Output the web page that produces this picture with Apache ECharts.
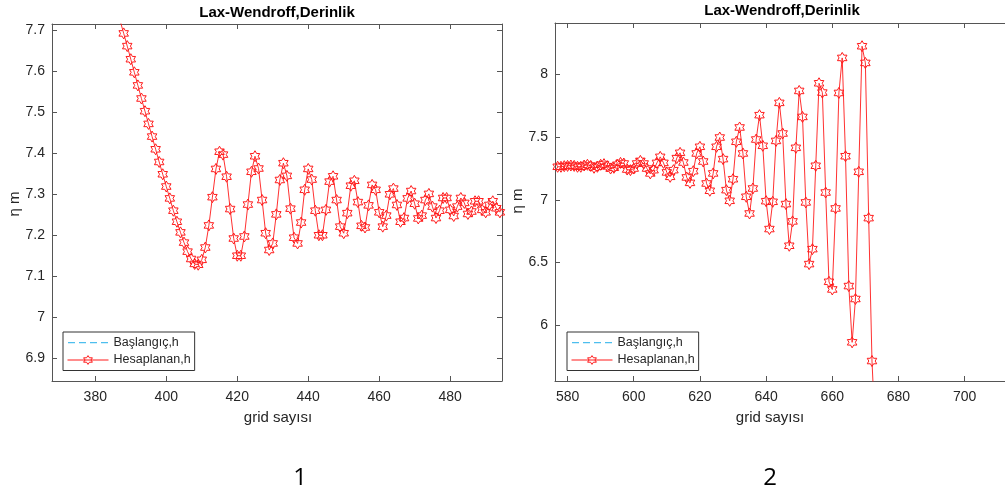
<!DOCTYPE html>
<html>
<head>
<meta charset="utf-8">
<script src="https://cdn.jsdelivr.net/npm/echarts@6/dist/echarts.min.js"></script>
<style>
  html, body { margin: 0; padding: 0; background: #fff; }
  #chart { width: 1005px; height: 495px; }
</style>
</head>
<body>
<div id="chart"></div>
<script>
// Panel 1: grid points and computed depth (eta, m)
const leftGrid = [];
for (let g = 384; g <= 494; g++) leftGrid.push(g);
const leftEta = [
  7.817, 7.786, 7.755, 7.724, 7.693, 7.662, 7.630, 7.598, 7.566, 7.534,
  7.503, 7.472, 7.441, 7.410, 7.379, 7.349, 7.319, 7.290, 7.260, 7.233,
  7.207, 7.182, 7.160, 7.142, 7.130, 7.128, 7.140, 7.170, 7.224, 7.293,
  7.362, 7.404, 7.397, 7.343, 7.264, 7.192, 7.150, 7.150, 7.197, 7.275,
  7.355, 7.393, 7.363, 7.286, 7.205, 7.164, 7.180, 7.251, 7.335, 7.376,
  7.345, 7.265, 7.194, 7.180, 7.231, 7.311, 7.362, 7.336, 7.260, 7.200,
  7.200, 7.262, 7.331, 7.344, 7.286, 7.221, 7.205, 7.254, 7.321, 7.333,
  7.281, 7.223, 7.219, 7.273, 7.323, 7.311, 7.256, 7.221, 7.248, 7.300,
  7.314, 7.274, 7.233, 7.242, 7.290, 7.308, 7.277, 7.241, 7.248, 7.286,
  7.301, 7.270, 7.242, 7.260, 7.291, 7.291, 7.262, 7.247, 7.270, 7.291,
  7.279, 7.252, 7.258, 7.283, 7.283, 7.262, 7.256, 7.274, 7.283, 7.266,
  7.256
];
const leftInitial = [];   // initial condition lies outside the shown window

// Panel 2: grid points and computed depth (eta, m)
const rightGrid = [];
for (let g = 577; g <= 673; g++) rightGrid.push(g);
const rightEta = [
  7.263, 7.263, 7.268, 7.270, 7.273, 7.270, 7.263, 7.263, 7.273, 7.279,
  7.270, 7.255, 7.263, 7.279, 7.284, 7.268, 7.249, 7.255, 7.279, 7.294,
  7.289, 7.241, 7.236, 7.249, 7.289, 7.310, 7.289, 7.249, 7.210, 7.236,
  7.294, 7.342, 7.294, 7.218, 7.183, 7.236, 7.332, 7.374, 7.297, 7.178,
  7.135, 7.228, 7.369, 7.422, 7.305, 7.130, 7.072, 7.210, 7.422, 7.496,
  7.324, 7.077, 6.992, 7.164, 7.462, 7.576, 7.369, 7.024, 6.891, 7.090,
  7.480, 7.674, 7.430, 6.989, 6.767, 6.984, 7.469, 7.772, 7.528, 6.966,
  6.634, 6.828, 7.414, 7.867, 7.660, 6.979, 6.488, 6.607, 7.271, 7.928,
  7.854, 7.058, 6.347, 6.286, 6.931, 7.851, 8.130, 7.347, 6.313, 5.865,
  6.210, 7.223, 8.223, 8.090, 6.854, 5.716, 5.150
];
const rightInitial = [];

// Tick labels
const leftXTicks = [380, 400, 420, 440, 460, 480];
const leftYTicks = [6.9, 7, 7.1, 7.2, 7.3, 7.4, 7.5, 7.6, 7.7];
const rightXTicks = [580, 600, 620, 640, 660, 680, 700];
const rightYTicks = [6, 6.5, 7, 7.5, 8];

const titleText = 'Lax-Wendroff,Derinlik';
const xName = 'grid sayısı';
const yName = 'η m';
const seriesNames = ['Başlangıç,h', 'Hesaplanan,h'];
const panelNumbers = ['1', '2'];

// six-pointed star outline used as the marker
function hexagramPath() {
  const parts = [];
  for (let k = 0; k < 12; k++) {
    const a = (-90 + k * 30) * Math.PI / 180;
    const r = k % 2 === 0 ? 50 : 28.87;
    const x = (50 + r * Math.cos(a)).toFixed(2);
    const y = (50 + r * Math.sin(a)).toFixed(2);
    parts.push((k === 0 ? 'M' : 'L') + x + ' ' + y);
  }
  return 'path://' + parts.join(' ') + ' Z';
}
const STAR = hexagramPath();

// dashed-line legend icon: four short bars, with zero-area corner points
// so the icon keeps the full item box (40 x 11)
function dashIcon() {
  let p = 'M0 0 L0.01 0 L0 0 Z M40 11 L39.99 11 L40 11 Z';
  [[0, 7], [11, 18], [22, 29], [33, 40]].forEach(([a, b]) => {
    p += ' M' + a + ' 5 L' + b + ' 5 L' + b + ' 6.3 L' + a + ' 6.3 Z';
  });
  return 'path://' + p;
}

const FONT = '"Liberation Sans", Arial, sans-serif';
const AXIS_COLOR = '#555';
const TEXT_COLOR = '#262626';
const RED = '#ff1a1a';
const BLUE = '#4DBEEE';

function pairs(xs, ys) { return xs.map((x, i) => [x, ys[i]]); }

function baseAxis(gridIndex, min, max, ticks) {
  return {
    type: 'value', gridIndex, min, max,
    splitLine: { show: false },
    axisLine: { show: true, onZero: false, lineStyle: { color: AXIS_COLOR, width: 1 } },
    axisTick: { show: true, inside: true, length: 5, customValues: ticks, lineStyle: { color: AXIS_COLOR } }
  };
}
function xAxisPair(gridIndex, min, max, ticks) {
  return [
    Object.assign(baseAxis(gridIndex, min, max, ticks), {
      position: 'bottom',
      axisLabel: { show: true, customValues: ticks, margin: 9, color: TEXT_COLOR, fontSize: 14, fontFamily: FONT }
    }),
    Object.assign(baseAxis(gridIndex, min, max, ticks), { position: 'top', axisLabel: { show: false } })
  ];
}
function yAxisPair(gridIndex, min, max, ticks, showRight) {
  const right = Object.assign(baseAxis(gridIndex, min, max, ticks), { position: 'right', axisLabel: { show: false } });
  if (!showRight) { right.axisTick.show = false; }
  return [
    Object.assign(baseAxis(gridIndex, min, max, ticks), {
      position: 'left',
      axisLabel: { show: true, customValues: ticks, margin: 7, color: TEXT_COLOR, fontSize: 14, fontFamily: FONT }
    }),
    right
  ];
}

function initialSeries(xi, yi, data) {
  return {
    name: seriesNames[0], type: 'line', xAxisIndex: xi, yAxisIndex: yi,
    data, symbol: 'none',
    lineStyle: { color: BLUE, width: 1.2, type: [5, 3] },
    itemStyle: { color: BLUE }
  };
}
function computedSeries(xi, yi, data) {
  return {
    name: seriesNames[1], type: 'line', xAxisIndex: xi, yAxisIndex: yi,
    data, clip: true, symbol: STAR, symbolSize: 11, symbolKeepAspect: true,
    lineStyle: { color: RED, width: 0.9 },
    itemStyle: { color: 'rgba(255,255,255,0)', borderColor: RED, borderWidth: 1 }
  };
}

function legendAt(left, top) {
  return {
    show: true, orient: 'vertical', left: left, top: top,
    data: [
      { name: seriesNames[0], icon: dashIcon(), itemStyle: { color: BLUE, borderWidth: 0 } },
      {
        name: seriesNames[1],
        itemStyle: { color: 'rgba(255,255,255,0)', borderColor: RED, borderWidth: 1 },
        lineStyle: { color: RED, width: 1 }
      }
    ],
    itemWidth: 41, itemHeight: 11, itemGap: 4.5,
    padding: [4, 4, 4, 4],
    lineStyle: { width: 1 },
    borderColor: '#333', borderWidth: 1, backgroundColor: '#fff',
    selectedMode: false,
    textStyle: { fontSize: 12.5, color: TEXT_COLOR, fontFamily: FONT }
  };
}

const chart = echarts.init(document.getElementById('chart'), null, { renderer: 'canvas' });

const option = {
  animation: false,
  backgroundColor: '#fff',
  grid: [
    { left: 52, top: 24, right: 1005 - 502, bottom: 495 - 381, containLabel: false },
    { left: 555, top: 23, right: -5, bottom: 495 - 381, containLabel: false }
  ],
  xAxis: [
    ...xAxisPair(0, 367.8, 494.6, leftXTicks),
    ...xAxisPair(1, 576.2, 712.2, rightXTicks)
  ],
  yAxis: [
    ...yAxisPair(0, 6.844, 7.716, leftYTicks, true),
    ...yAxisPair(1, 5.557, 8.408, rightYTicks, false)
  ],
  legend: [legendAt(63, 332), legendAt(567, 332)],
  series: [
    initialSeries(0, 0, leftInitial),
    computedSeries(0, 0, pairs(leftGrid, leftEta)),
    initialSeries(2, 2, rightInitial),
    computedSeries(2, 2, pairs(rightGrid, rightEta))
  ],
  graphic: [
    { type: 'text', x: 277, y: 13, style: { text: titleText, font: 'bold 15px ' + FONT, fill: '#000', align: 'center', verticalAlign: 'middle' } },
    { type: 'text', x: 782, y: 11, style: { text: titleText, font: 'bold 15px ' + FONT, fill: '#000', align: 'center', verticalAlign: 'middle' } },
    { type: 'text', x: 278, y: 418, style: { text: xName, font: '15px ' + FONT, fill: TEXT_COLOR, align: 'center', verticalAlign: 'middle' } },
    { type: 'text', x: 770, y: 418, style: { text: xName, font: '15px ' + FONT, fill: TEXT_COLOR, align: 'center', verticalAlign: 'middle' } },
    { type: 'text', x: 15, y: 204, rotation: Math.PI / 2, style: { text: yName, font: '15px ' + FONT, fill: TEXT_COLOR, align: 'center', verticalAlign: 'middle' } },
    { type: 'text', x: 518, y: 201, rotation: Math.PI / 2, style: { text: yName, font: '15px ' + FONT, fill: TEXT_COLOR, align: 'center', verticalAlign: 'middle' } },
    { type: 'text', x: 300, y: 478, style: { text: panelNumbers[0], font: '24px "Open Sans", sans-serif', fill: '#000', align: 'center', verticalAlign: 'middle' } },
    { type: 'text', x: 770, y: 478, style: { text: panelNumbers[1], font: '24px "Open Sans", sans-serif', fill: '#000', align: 'center', verticalAlign: 'middle' } }
  ]
};
chart.setOption(option);
</script>
</body>
</html>
